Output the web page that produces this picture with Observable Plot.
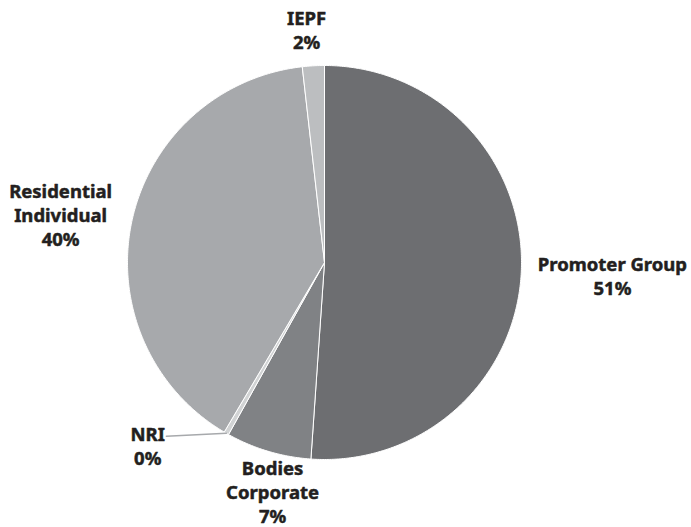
<!DOCTYPE html>
<html>
<head>
<meta charset="utf-8">
<script src="https://cdn.jsdelivr.net/npm/d3@7"></script>
<script src="https://cdn.jsdelivr.net/npm/@observablehq/plot@0.6"></script>
<style>
  html, body { margin: 0; padding: 0; background: #fff; }
  svg { display: block; }
</style>
</head>
<body>
<div id="chart"></div>
<script>
// ---- data ----
const categories = ["Promoter Group", "Bodies Corporate", "NRI", "Residential Individual", "IEPF"];
const categoryLabels = ["Promoter Group", "Bodies\nCorporate", "NRI", "Residential\nIndividual", "IEPF"];
const shares = [51.1, 7.0, 0.4, 39.7, 1.8];
const percentLabels = ["51%", "7%", "0%", "40%", "2%"];

// ---- styling / layout ----
const palette = ["#6d6e71", "#808285", "#d1d3d4", "#a7a9ac", "#bcbec0"];
// label placement: [distance in radii, angle in degrees clockwise from top]
const labelPlacement = [[1.463, 92.6], [1.19, 192.8], [1.292, 224], [1.362, 280.4], [1.186, 355.6]];
const W = 691, H = 527, R = 197, CX = 324, CY = 262;

const arcs = d3.pie().sort(null).value(d => d)(shares);

const slices = arcs.map((a, i) => {
  const pts = [{x: 0, y: 0}];
  const n = Math.max(2, Math.ceil((a.endAngle - a.startAngle) / (Math.PI / 360)));
  for (let k = 0; k <= n; k++) {
    const t = a.startAngle + (a.endAngle - a.startAngle) * k / n;
    pts.push({x: Math.sin(t), y: Math.cos(t)});
  }
  pts.push({x: 0, y: 0});
  return pts;
});

const labelData = categories.map((c, i) => {
  const [r, deg] = labelPlacement[i];
  const t = deg * Math.PI / 180;
  return {x: r * Math.sin(t), y: r * Math.cos(t), text: categoryLabels[i] + "\n" + percentLabels[i]};
});

// leader line for NRI
const nri = arcs[2];
const mid = (nri.startAngle + nri.endAngle) / 2;
const edge = {x: Math.sin(mid), y: Math.cos(mid)};
const leader = [edge, {x: edge.x - 60 / R, y: edge.y - 3 / R}];

const chart = Plot.plot({
  width: W,
  height: H,
  margin: 0,
  x: {domain: [-CX / R, (W - CX) / R], axis: null},
  y: {domain: [-(H - CY) / R, CY / R], axis: null},
  marks: [
    ...slices.map((pts, i) => Plot.line(pts, {x: "x", y: "y", fill: palette[i], stroke: "white", strokeWidth: 1, strokeLinejoin: "round"})),
    Plot.line(leader, {x: "x", y: "y", stroke: "#a7a9ac", strokeWidth: 1.5}),
    Plot.text(labelData, {
      x: "x", y: "y", text: "text",
      fontSize: 18.5, fontWeight: "bold", fontFamily: "Noto Sans",
      lineHeight: 1.3, fill: "#231f20", stroke: "#231f20", strokeWidth: 0.5,
      textAnchor: "middle", lineAnchor: "middle"
    })
  ]
});
document.getElementById("chart").appendChild(chart);
</script>
</body>
</html>
